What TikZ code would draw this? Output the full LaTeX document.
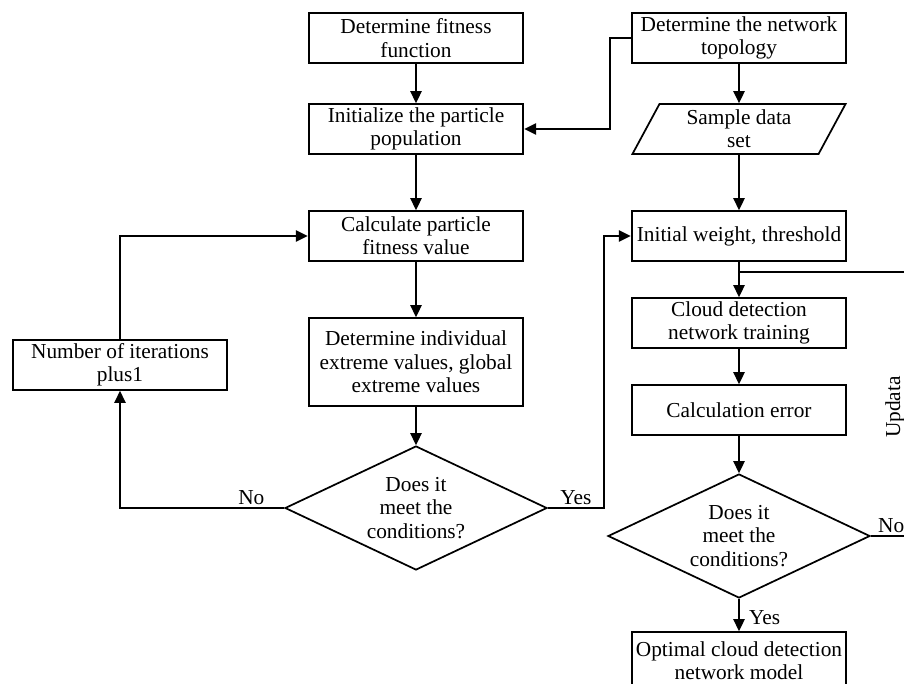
\documentclass[tikz,border=0pt]{standalone}
\usepackage{fontspec}
\setmainfont{Liberation Serif}
\usepackage{tikz}
\usetikzlibrary{positioning,shapes.geometric,arrows.meta,calc}
\tikzset{
  >={Triangle[length=9pt,width=8.5pt]},
  every node/.style={font=\fontsize{16}{17.5}\selectfont},
  % --- nodes
  proc/.style   = {draw, line width=1.3pt, align=center, inner sep=1pt,
                   minimum width=161pt, minimum height=37.5pt},
  iodata/.style = {proc, trapezium, trapezium left angle=66, trapezium right angle=114,
                   trapezium stretches=true, minimum width=160pt},
  decide/.style = {draw, line width=1.3pt, diamond, aspect=2.1, align=center, inner sep=0pt,
                   minimum width=196.5pt, minimum height=93pt},
  lbl/.style    = {inner sep=2pt},
  % --- edges
  e/.style      = {->, line width=1.3pt},
  eline/.style  = {line width=1.3pt},
}

\begin{document}
\begin{tikzpicture}[x=0.75pt,y=-0.75pt]
  \useasboundingbox (0,0) rectangle (904,683);
  % particle swarm side
  \node[proc] (fitfn)   at (416,38)  {Determine fitness\\function};
  \node[proc] (initpop) at (416,129) {Initialize the particle\\population};
  \node[proc] (calcfit) at (416,236) {Calculate particle\\fitness value};
  \node[proc, minimum height=66pt] (extreme) at (416,362)
       {Determine individual\\extreme values, global\\extreme values};
  \node[decide] (cond1) at (416,508) {Does it\\meet the\\conditions?};
  \node[proc] (iterplus) at (120,365) {Number of iterations\\plus1};

  % network side
  \node[proc]   (topo)    at (739,38)  {Determine the network\\topology};
  \node[iodata] (sample)  at (739,129) {Sample data\\set};
  \node[proc]   (initw)   at (739,236) {Initial weight, threshold};
  \node[proc]   (train)   at (739,323) {Cloud detection\\network training};
  \node[proc]   (calcerr) at (739,410) {Calculation error};
  \node[decide] (cond2)   at (739,536) {Does it\\meet the\\conditions?};
  \node[proc, minimum height=43.5pt] (optmodel) at (739,661)
       {Optimal cloud detection\\network model};
  \node[rotate=90] (updata) at (895,407) {Updata};

  \coordinate (split) at (739,272);
  \coordinate (updR)  at (915,272);
  \coordinate (noR)   at (915,536);

  \draw[e] (fitfn) -- (initpop);
  \draw[e] (initpop) -- (calcfit);
  \draw[e] (calcfit) -- (extreme);
  \draw[e] (extreme) -- (cond1);
  \draw[e] (cond1.west) -| node[lbl, above, pos=0.1] {No} (iterplus.south);
  \draw[e] (iterplus.north) |- (calcfit.west);
  \draw[e] (cond1.east) -- node[lbl, above, pos=0.5] {Yes} ++(56,0) |- (initw.west);

  \draw[e] (topo.west) -- ++(-21,0) |- (initpop.east);
  \draw[e] (topo) -- (sample);
  \draw[e] (sample) -- (initw);
  \draw[e] (initw) -- (train);
  \draw[eline] (split) -- (updR);
  \draw[e] (train) -- (calcerr);
  \draw[e] (calcerr) -- (cond2);
  \draw[e] (cond2) -- node[lbl, right, xshift=5pt, yshift=-2pt] {Yes} (optmodel);
  \draw[eline] (cond2.east) -- node[lbl, above, pos=0.46] {No} (noR);
\end{tikzpicture}
\end{document}
